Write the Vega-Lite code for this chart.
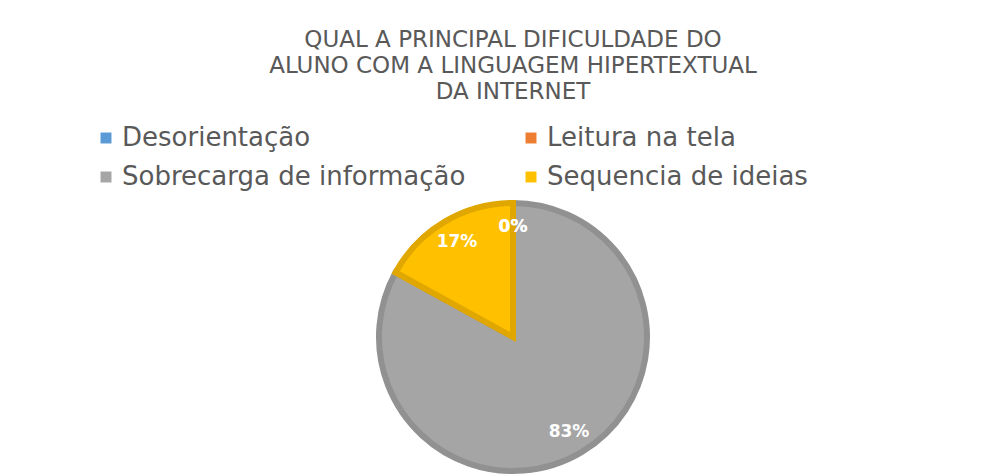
{
  "$schema": "https://vega.github.io/schema/vega-lite/v6.json",
  "width": 1008,
  "height": 648,
  "autosize": "none",
  "padding": {"left": 9, "top": 13, "right": 0, "bottom": 0},
  "background": "white",
  "title": {
    "text": ["QUAL A PRINCIPAL DIFICULDADE DO", "ALUNO COM A LINGUAGEM HIPERTEXTUAL", "DA INTERNET"],
    "orient": "top",
    "anchor": "middle",
    "offset": -91,
    "font": "DejaVu Sans",
    "fontSize": 23,
    "fontWeight": "normal",
    "color": "#595959",
    "lineHeight": 26
  },
  "config": {"view": {"stroke": "#d6d6d6", "strokeWidth": 2}},
  "data": {
    "values": [
      {"categoria": "Desorientação", "ordem": 1, "pct": 0},
      {"categoria": "Leitura na tela", "ordem": 2, "pct": 0},
      {"categoria": "Sobrecarga de informação", "ordem": 3, "pct": 0.83},
      {"categoria": "Sequencia de ideias", "ordem": 4, "pct": 0.17}
    ]
  },
  "encoding": {
    "theta": {"field": "pct", "type": "quantitative", "stack": true},
    "order": {"field": "ordem", "type": "quantitative"}
  },
  "layer": [
    {
      "mark": {"type": "arc", "outerRadius": 134, "strokeJoin": "miter"},
      "encoding": {
        "color": {
          "field": "categoria",
          "type": "nominal",
          "scale": {
            "domain": ["Desorientação", "Leitura na tela", "Sobrecarga de informação", "Sequencia de ideias"],
            "range": ["#5b9bd5", "#ed7d31", "#a5a5a5", "#ffc000"]
          },
          "legend": {
            "orient": "none",
            "direction": "horizontal",
            "legendX": 84,
            "legendY": 112,
            "columns": 2,
            "title": null,
            "symbolType": "square",
            "symbolSize": 120,
            "symbolStrokeWidth": 0,
            "labelFontSize": 26,
            "labelFont": "DejaVu Sans",
            "labelColor": "#595959",
            "labelOffset": 3,
            "labelLimit": 0,
            "rowPadding": 13,
            "columnPadding": 52
          }
        },
        "stroke": {
          "field": "categoria",
          "type": "nominal",
          "scale": {
            "domain": ["Desorientação", "Leitura na tela", "Sobrecarga de informação", "Sequencia de ideias"],
            "range": ["#4a89c2", "#d96a20", "#919191", "#e0a700"]
          },
          "legend": null
        },
        "strokeWidth": {"condition": {"test": "datum.pct > 0", "value": 6}, "value": 0}
      }
    },
    {
      "mark": {"type": "text", "radius": 110, "fill": "white", "fontWeight": "bold", "fontSize": 17, "font": "DejaVu Sans"},
      "encoding": {
        "text": {"field": "pct", "type": "quantitative", "format": ".0%"}
      }
    }
  ]
}
